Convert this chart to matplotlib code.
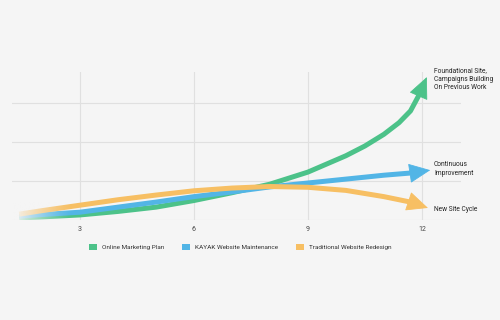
import numpy as np
import matplotlib
matplotlib.use('Agg')
from matplotlib import pyplot as plt
from matplotlib.patches import Patch

# values
x_green = [1.4, 2, 3, 4, 5, 6, 7, 8, 9, 10, 10.5, 11, 11.4, 11.7, 11.92]
y_green = [0.05, 0.08, 0.13, 0.22, 0.33, 0.5, 0.7, 0.92, 1.23, 1.65, 1.9, 2.2, 2.5, 2.8, 3.2]
tip_green = (12.13, 3.67)

x_blue = [1.4, 2, 3, 4, 5, 6, 7, 8, 9, 10, 11, 11.75]
y_blue = [0.1, 0.14, 0.2, 0.33, 0.46, 0.6, 0.72, 0.85, 0.95, 1.05, 1.15, 1.21]
tip_blue = (12.22, 1.28)

x_orange = [1.4, 2, 3, 4, 5, 6, 7, 8, 9, 10, 11, 11.7]
y_orange = [0.15, 0.24, 0.38, 0.52, 0.64, 0.75, 0.82, 0.86, 0.84, 0.76, 0.6, 0.46]
tip_orange = (12.16, 0.31)

labels = ['Online Marketing Plan', 'KAYAK Website Maintenance', 'Traditional Website Redesign']
colors = ['#4cc289', '#52b5e6', '#f7bf63']
end_texts = ['Foundational Site,\nCampaigns Building\nOn Previous Work', 'Continuous\nImprovement', 'New Site Cycle']
xticks = [3, 6, 9, 12]

plt.rcParams['font.family'] = ['Roboto', 'DejaVu Sans']
bg = '#f5f5f5'
fig = plt.figure(figsize=(5, 3.2), dpi=100, facecolor=bg)
ax = fig.add_axes([0.024, 0.3125, 0.898, 0.4625], facecolor=bg)

series = [(x_green, y_green, tip_green), (x_blue, y_blue, tip_blue), (x_orange, y_orange, tip_orange)]
for (xs, ys, tip), c in zip(series, colors):
    ax.plot(xs, ys, color=c, lw=3.6, solid_capstyle='butt', solid_joinstyle='round', zorder=3)
    ax.annotate('', xy=tip, xytext=(xs[-1], ys[-1]),
                arrowprops=dict(arrowstyle='-|>,head_length=0.7,head_width=0.32', color=c,
                                lw=0.6, shrinkA=0, shrinkB=0, mutation_scale=20), zorder=3)

# fade the start of the lines into the background
grad = np.zeros((1, 100, 4))
rgb = matplotlib.colors.to_rgb(bg)
grad[..., :3] = rgb
grad[..., 3] = np.linspace(1, 0, 100) ** 1.3
ax.imshow(grad, extent=(1.2, 2.8, -0.1, 0.45), aspect='auto', zorder=4, interpolation='bilinear')

ax.set_xlim(1.21, 13.03)
ax.set_ylim(0, 3.8)
ax.set_xticks(xticks)
ax.set_xticklabels([str(t) for t in xticks])
ax.set_yticks([0, 1, 2, 3])
ax.set_yticklabels([])
ax.grid(True, color='#e0e0e0', lw=0.8)
ax.tick_params(length=0, labelsize=5, colors='#444444', pad=4)
for s in ax.spines.values():
    s.set_visible(False)

text_y = [3.92, 1.31, 0.28]
for t, ty in zip(end_texts, text_y):
    ax.text(12.32, ty, t, fontsize=4.8, color='#222222', va='top' if ty > 3 else 'center',
            clip_on=False, linespacing=1.25)

handles = [Patch(facecolor=c, edgecolor='none') for c in colors]
fig.legend(handles, labels, loc='center', bbox_to_anchor=(0.48, 0.228), ncol=3, frameon=False,
           fontsize=4.6, handlelength=1.25, handleheight=1.25, columnspacing=2.8, handletextpad=0.8,
           labelcolor='#333333')

plt.savefig('out.png', dpi=100, facecolor=bg)
